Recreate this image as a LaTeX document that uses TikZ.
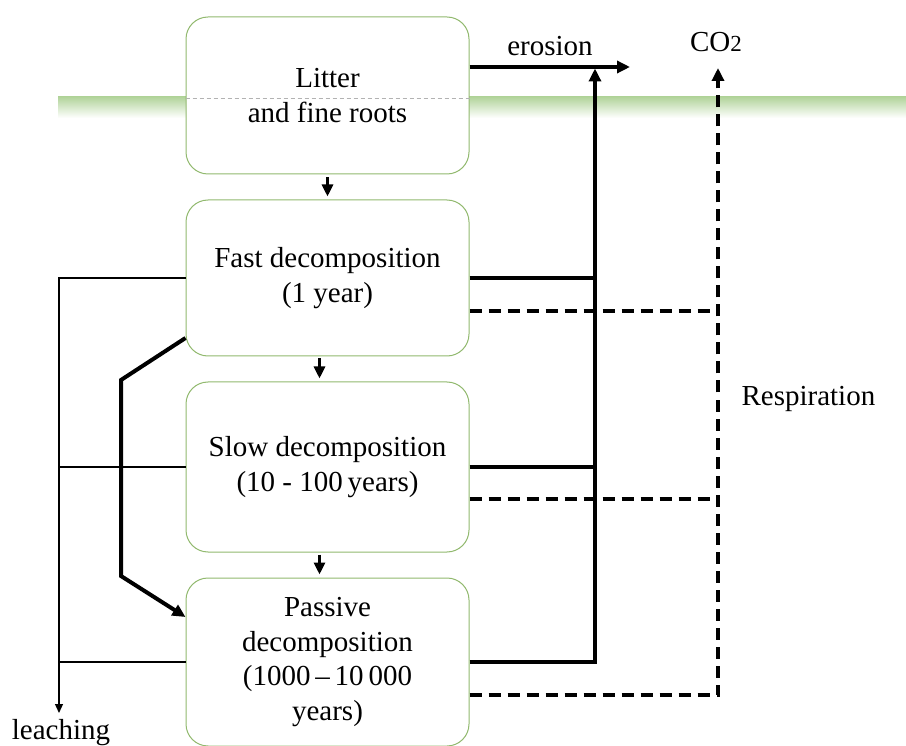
\documentclass[tikz,border=0pt]{standalone}
\usepackage{fontspec}
\setmainfont{Liberation Serif}
\usetikzlibrary{arrows.meta, positioning, calc}

\definecolor{boxgreen}{RGB}{145,185,110}
\definecolor{bandgreen}{RGB}{178,212,155}

\begin{document}
\begin{tikzpicture}[
    x=1pt, y=-1pt,
    node distance=25pt,
    font=\fontsize{29}{34.5}\selectfont,
    pool/.style={rectangle, draw=boxgreen, line width=1pt, fill=white, rounded corners=22pt, minimum width=283pt, inner sep=0pt, align=center},
    flow/.style={-{Triangle[length=13pt, width=12pt]}, line width=3.5pt},
    resp/.style={flow, dash pattern=on 12pt off 7pt},
    down/.style={-{Triangle[length=12pt, width=11pt]}, line width=3pt, shorten >=3pt},
    leach/.style={line width=1.2pt},
]
\useasboundingbox (0,0) rectangle (906,746);

% ground surface
\shade[top color=bandgreen, middle color=bandgreen!75, bottom color=white] (58,97) rectangle (906,118);

% carbon pools
\node[pool, minimum height=157pt] (litter) at (327.5,95.5) {Litter\\and fine roots};
\node[pool, minimum height=156pt, below=of litter] (fast) {Fast decomposition\\(1 year)};
\node[pool, minimum height=170pt, below=of fast] (slow) {Slow decomposition\\(10 - 100\,years)};
\node[pool, minimum height=168pt, below=of slow] (passive) {Passive\\decomposition\\(1000\,--\,10\,000\\years)};
\draw[gray!60, line width=0.8pt, dash pattern=on 4pt off 3pt] ([yshift=-2.5pt]litter.west) -- ([yshift=-2.5pt]litter.east);

% outputs
\coordinate (eroout) at (630,67);
\coordinate (erojoin) at (595,67);
\coordinate (co2in) at (718,68);
\coordinate (leachout) at (59,713);
\coordinate (bendtop) at (121,380);
\coordinate (bendbot) at (121,576);

\node[anchor=base] (erosion) at (550,56) {erosion};
\node[anchor=base] (co2) at (716,52) {CO{\fontsize{23}{23}\selectfont 2}};
\node[anchor=base west] (respiration) at (738,406) {Respiration};
\node[anchor=base] (leaching) at (61,739) {leaching};

% transfers between pools
\draw[down] ([yshift=-3pt]litter.south) -- (fast.north);
\draw[down] ([xshift=-8pt, yshift=-2pt]fast.south) -- ([xshift=-8pt]slow.north);
\draw[down] ([xshift=-8pt, yshift=-2pt]slow.south) -- ([xshift=-8pt]passive.north);
\draw[flow, line width=4pt] ([yshift=-60pt]fast.west) -- (bendtop) -- (bendbot) -- ([yshift=45pt]passive.west);

% erosion
\draw[flow] ([yshift=28.5pt]litter.east) -- (eroout);
\draw[line width=3.5pt] (fast.east) -- (fast.east -| erojoin);
\draw[line width=3.5pt] (slow.east) -- (slow.east -| erojoin);
\draw[flow, shorten >=1.5pt] (passive.east) -| (erojoin);

% respiration
\draw[line width=3.5pt, dash pattern=on 12pt off 7pt] ([yshift=-33pt]fast.east) -- ([yshift=-33pt]fast.east -| co2in);
\draw[line width=3.5pt, dash pattern=on 12pt off 7pt] ([yshift=-32pt]slow.east) -- ([yshift=-32pt]slow.east -| co2in);
\draw[resp] ([yshift=-33pt]passive.east) -| (co2in);

% leaching
\draw[leach, -{Triangle[length=9pt, width=8pt]}] (fast.west) -| (leachout);
\draw[leach] (slow.west) -- (slow.west -| leachout);
\draw[leach] (passive.west) -- (passive.west -| leachout);

\end{tikzpicture}
\end{document}
